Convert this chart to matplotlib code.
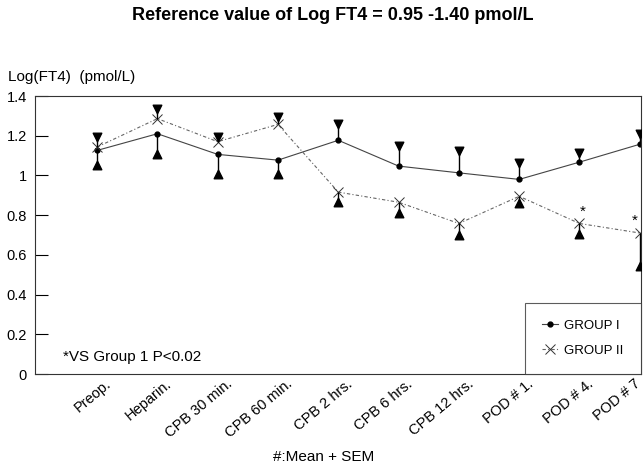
import matplotlib.pyplot as plt
import matplotlib.transforms as mtransforms
import numpy as np

plt.rcParams["font.family"] = ["Liberation Sans", "DejaVu Sans"]

categories = ["Preop.", "Heparin.", "CPB 30 min.", "CPB 60 min.", "CPB 2 hrs.",
              "CPB 6 hrs.", "CPB 12 hrs.", "POD # 1.", "POD # 4.", "POD # 7"]
group1 = [1.126, 1.21, 1.106, 1.077, 1.177, 1.047, 1.013, 0.98, 1.067, 1.157]
group1_sem = [0.071, 0.104, 0.098, 0.069, 0.081, 0.101, 0.11, 0.084, 0.044, 0.05]
group2 = [1.143, 1.286, 1.17, 1.257, 0.916, 0.865, 0.758, 0.895, 0.758, 0.71]
group2_sem = [0.052, 0.05, 0.025, 0.039, 0.051, 0.055, 0.056, 0.036, 0.051, 0.165]
yticks = [0, 0.2, 0.4, 0.6, 0.8, 1, 1.2, 1.4]
ytick_labels = ["0", "0.2", "0.4", "0.6", "0.8", "1", "1.2", "1.4"]
sig_points = [8, 9]

x = np.arange(len(categories))
g1 = np.array(group1)
g2 = np.array(group2)
s1 = np.array(group1_sem)
s2 = np.array(group2_sem)

fig = plt.figure(figsize=(6.44, 4.65), dpi=100)
ax = fig.add_axes([35 / 644, 1 - 374 / 465, 606 / 644, 278 / 465])

ax.plot(x, g1, color="#444444", lw=0.8, marker="o", ms=3.5,
        mfc="black", mec="black", label="GROUP I")
ax.plot(x, g2, color="#666666", lw=0.8, ls=(0, (3, 2, 1, 2)), marker="x", ms=7,
        mew=0.7, mec="#333333", label="GROUP II")

# one-sided SEM bars: the upper series goes up, the lower one goes down
for vals, sem, other in [(g1, s1, g2), (g2, s2, g1)]:
    sign = np.where(vals >= other, 1, -1)
    ends = vals + sign * sem
    ax.vlines(x, vals, ends, color="black", lw=1.0)
    up = sign > 0
    ax.scatter(x[up], ends[up], marker="v", s=38, color="black", zorder=3)
    ax.scatter(x[~up], ends[~up], marker="^", s=38, color="black", zorder=3)

for i in sig_points:
    xs = x[i] + 0.05 if i < len(x) - 1 else x[i] - 0.08
    ax.text(xs, g2[i] + 0.06, "*", ha="center", va="center", fontsize=11)

ax.set_xlim(-1.03, 9.02)
ax.set_ylim(0, 1.4)
ax.set_yticks(yticks)
ax.set_yticklabels(ytick_labels, fontsize=10.5)
ax.set_xticks(x)
ax.set_xticklabels(categories, rotation=40, ha="right", va="top",
                   rotation_mode="anchor", fontsize=10.5)
ax.tick_params(axis="y", direction="in", length=9, width=0.8, pad=6)
ax.tick_params(axis="x", length=0, pad=2)

# labels end a little to the right of their tick, like the original
for k, lab in enumerate(ax.get_xticklabels()):
    dx = 8 if k < len(categories) - 1 else -6
    lab.set_transform(lab.get_transform() +
                      mtransforms.ScaledTranslation(dx / 100, 0, fig.dpi_scale_trans))

for sp in ax.spines.values():
    sp.set_linewidth(0.8)
    sp.set_color("#333333")

ax.text(-0.56, 0.086, "*VS Group 1 P<0.02", fontsize=11, va="center")

leg = ax.legend(loc="lower right", bbox_to_anchor=(1.0, 0.0), borderaxespad=0,
                frameon=True, fancybox=False, fontsize=9.5, handlelength=1.2,
                borderpad=1.3, labelspacing=0.95, handletextpad=0.5)
leg.get_frame().set_edgecolor("#333333")
leg.get_frame().set_linewidth(0.8)

fig.text(8 / 644, 1 - 77 / 465, "Log(FT4)  (pmol/L)", fontsize=11, va="center")
fig.text(333 / 644, 1 - 16 / 465, "Reference value of Log FT4 = 0.95 -1.40 pmol/L",
         ha="center", va="center", fontsize=13, fontweight="bold")
fig.text(324 / 644, 1 - 457 / 465, "#:Mean + SEM", ha="center", va="center",
         fontsize=11)

fig.savefig("out.png", dpi=100)
